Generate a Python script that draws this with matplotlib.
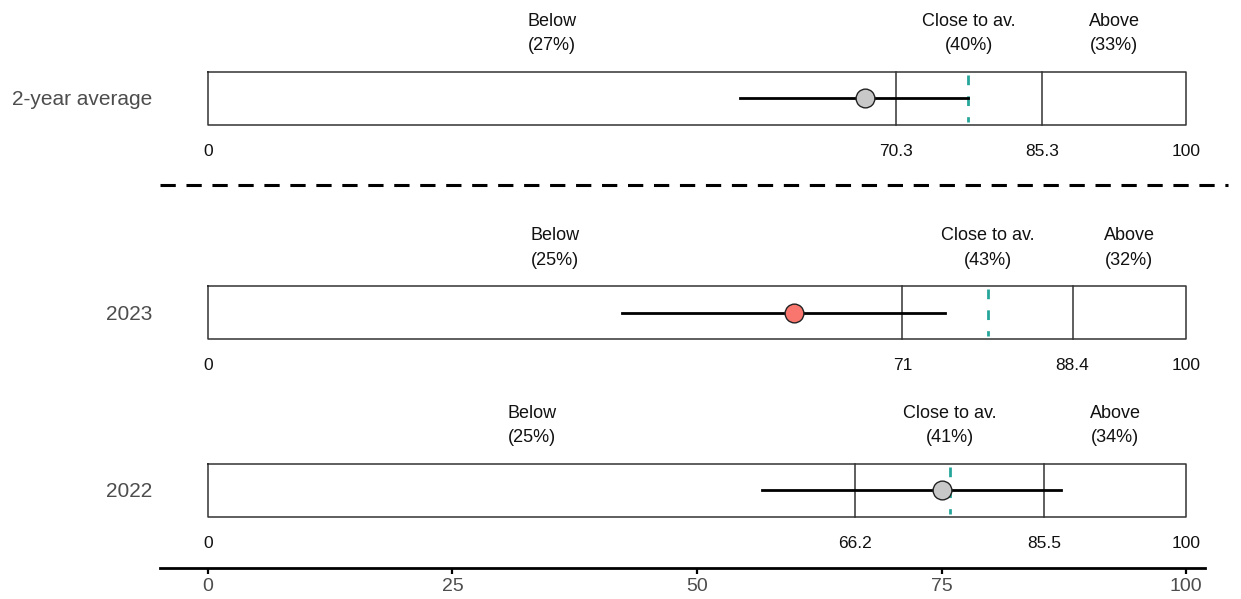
import matplotlib
matplotlib.use("Agg")
import matplotlib.pyplot as plt

plt.rcParams["font.family"] = ["Liberation Sans", "DejaVu Sans"]

# --- data ---
rows       = ["2-year average", "2023", "2022"]
lower_cut  = [70.3, 71.0, 66.2]
upper_cut  = [85.3, 88.4, 85.5]
estimate   = [67.2, 59.9, 75.0]
ci_low     = [54.4, 42.3, 56.6]
ci_high    = [77.7, 75.4, 87.2]
average    = [77.7, 79.8, 75.9]
pct_below  = [27, 25, 25]
pct_close  = [40, 43, 41]
pct_above  = [33, 32, 34]
point_fill = ["#c8c8c8", "#f8766d", "#c8c8c8"]
axis_ticks = [0, 25, 50, 75, 100]

# vertical layout (pixels from top of the figure)
row_y   = [98, 312.5, 490]
half_h  = 26.5
sep_y   = 185

W, H = 1241, 599
fig = plt.figure(figsize=(W / 100, H / 100), dpi=100)
px0, px100 = 208, 1186
scale = (px100 - px0) / 100
ax_l, ax_r, ax_b = 160, 1205, 568
ax = fig.add_axes([ax_l / W, (H - ax_b) / H, (ax_r - ax_l) / W, ax_b / H])
ax.set_xlim((ax_l - px0) / scale, (ax_r - px0) / scale)
ax.set_ylim(ax_b, 0)

grey_txt = "#4d4d4d"
edge = "#333333"

for i, name in enumerate(rows):
    yc = row_y[i]
    top, bot = yc - half_h, yc + half_h
    # box
    ax.plot([0, 100, 100, 0, 0], [top, top, bot, bot, top], color=edge, lw=1.1)
    for c in (lower_cut[i], upper_cut[i]):
        ax.plot([c, c], [top, bot], color=edge, lw=1.1)
    # average
    ax.plot([average[i], average[i]], [top + 3, bot - 3], color="#26a69a",
            lw=2, dashes=(3.5, 4))
    # interval and estimate
    ax.plot([ci_low[i], ci_high[i]], [yc, yc], color="black", lw=2)
    ax.plot(estimate[i], yc, "o", ms=13.5, mfc=point_fill[i], mec="#222222", mew=1)

    # category labels above the box
    mids = [lower_cut[i] / 2, (lower_cut[i] + upper_cut[i]) / 2, (upper_cut[i] + 100) / 2]
    heads = ["Below", "Close to av.", "Above"]
    pcts = [pct_below[i], pct_close[i], pct_above[i]]
    for m, h, p in zip(mids, heads, pcts):
        ax.text(m, top - 38, f"{h}\n({p}%)", ha="center", va="center",
                fontsize=13, linespacing=1.6, color="#111111")

    # value labels below the box
    for v in [0, lower_cut[i], upper_cut[i], 100]:
        ax.text(v, bot + 26.5, f"{v:g}", ha="center", va="center",
                fontsize=12.5, color="#111111")

    ax.text((152 - px0) / scale, yc + 1.5, name, ha="right", va="center",
            fontsize=15, color=grey_txt, clip_on=False)

# separator between the average and the single years
ax.plot([(160 - px0) / scale, (1228 - px0) / scale], [sep_y, sep_y], color="black",
        lw=2.2, dashes=(5, 3.5), clip_on=False)

for s in ("top", "left", "right"):
    ax.spines[s].set_visible(False)
ax.spines["bottom"].set_linewidth(2)
ax.set_yticks([])
ax.set_xticks(axis_ticks)
ax.tick_params(axis="x", length=4.5, width=1.6, colors="black", labelcolor=grey_txt,
               labelsize=14, pad=3)

fig.savefig("out.png", dpi=100)
